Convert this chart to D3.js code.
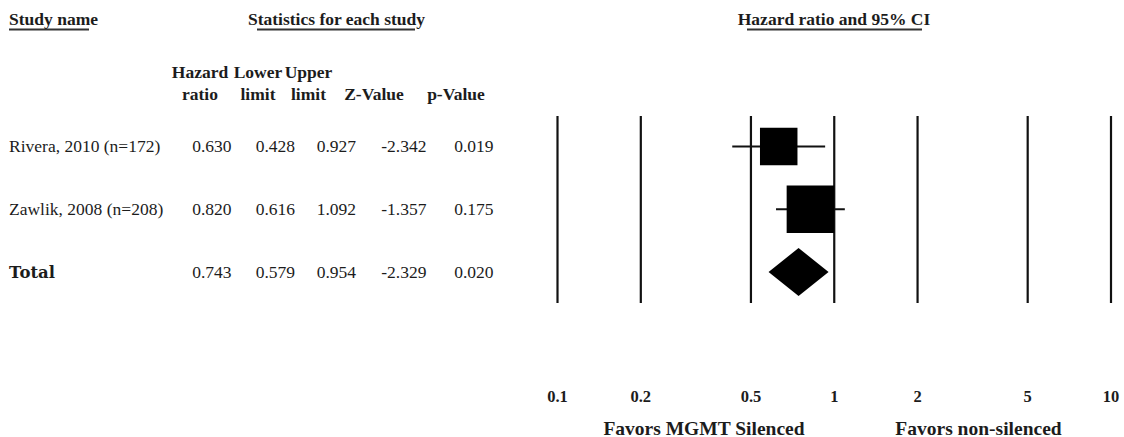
<!DOCTYPE html>
<html>
<head>
<meta charset="utf-8">
<script src="https://cdn.jsdelivr.net/npm/d3@7"></script>
<style>
  html, body { margin: 0; padding: 0; background: #fff; }
  svg { display: block; }
  text { font-family: "Liberation Serif", "Times New Roman", serif; fill: #1c1c1c; }
</style>
</head>
<body>
<svg id="chart" width="1124" height="437"></svg>
<script>
// Study-level statistics
const studyNames  = ["Rivera, 2010 (n=172)", "Zawlik, 2008 (n=208)"];
const hazardRatio = [0.630, 0.820];
const lowerLimit  = [0.428, 0.616];
const upperLimit  = [0.927, 1.092];
const zValue      = [-2.342, -1.357];
const pValue      = [0.019, 0.175];

// Pooled estimate
const totalLabel = "Total";
const totalHR    = 0.743;
const totalLower = 0.579;
const totalUpper = 0.954;
const totalZ     = -2.329;
const totalP     = 0.020;

// Axis
const axisTicks  = [0.1, 0.2, 0.5, 1, 2, 5, 10];
const tickLabels = ["0.1", "0.2", "0.5", "1", "2", "5", "10"];
const favorsLeft  = "Favors MGMT Silenced";
const favorsRight = "Favors non-silenced";

// Column headers
const headerLine1 = ["Hazard", "Lower", "Upper", "", ""];
const headerLine2 = ["ratio", "limit", "limit", "Z-Value", "p-Value"];

const svg = d3.select("#chart");

const x = d3.scaleLog().domain([0.1, 10]).range([557.5, 1111]);
const rowY = d3.scalePoint().domain([0, 1, 2]).range([146.5, 272]);

// Inverse-variance weights from the confidence limits set the box sizes
const weights = lowerLimit.map((lo, i) => {
  const se = (Math.log(upperLimit[i]) - Math.log(lo)) / (2 * 1.959964);
  return 1 / (se * se);
});
const boxSize = d3.scaleLinear().domain(d3.extent(weights)).range([37.5, 47.5]);

// Three-decimal format with a plain hyphen for negatives
const fmt = v => d3.format(".3f")(v).replace("\u2212", "-");

// ---- Top headings with underlines ----
const headings = [
  { t: "Study name", x: 9, anchor: "start", ul: [9, 89] },
  { t: "Statistics for each study", x: 336.5, anchor: "middle", ul: [257, 415] },
  { t: "Hazard ratio and 95% CI", x: 834, anchor: "middle", ul: [747, 922] }
];
svg.selectAll("text.heading").data(headings).join("text")
  .attr("class", "heading")
  .attr("x", d => d.x).attr("y", 25)
  .attr("text-anchor", d => d.anchor)
  .style("font-weight", "bold").style("font-size", "17.5px")
  .text(d => d.t);
svg.selectAll("line.ul").data(headings).join("line")
  .attr("class", "ul")
  .attr("x1", d => d.ul[0]).attr("x2", d => d.ul[1])
  .attr("y1", 29.5).attr("y2", 29.5)
  .attr("stroke", "#333").attr("stroke-width", 1.8);

// ---- Column headers ----
const colCenters = [200, 258, 308.5, 374, 456];
const colRight   = [231.5, 295, 356, 426.5, 493.5];
svg.selectAll("text.h1").data(headerLine1).join("text")
  .attr("class", "h1")
  .attr("x", (d, i) => colCenters[i]).attr("y", 77.5)
  .attr("text-anchor", "middle")
  .style("font-weight", "bold").style("font-size", "17.5px")
  .text(d => d);
svg.selectAll("text.h2").data(headerLine2).join("text")
  .attr("class", "h2")
  .attr("x", (d, i) => colCenters[i]).attr("y", 100)
  .attr("text-anchor", "middle")
  .style("font-weight", "bold").style("font-size", "17.5px")
  .text(d => d);

// ---- Table rows ----
const rows = studyNames.map((n, i) => ({
  name: n, vals: [hazardRatio[i], lowerLimit[i], upperLimit[i], zValue[i], pValue[i]], total: false
}));
rows.push({ name: totalLabel, vals: [totalHR, totalLower, totalUpper, totalZ, totalP], total: true });

const rowG = svg.selectAll("g.row").data(rows).join("g")
  .attr("class", "row")
  .attr("transform", (d, i) => `translate(0,${rowY(i) + 5.8})`);

rowG.append("text")
  .attr("x", 9).attr("y", 0)
  .style("font-size", d => d.total ? "16.5px" : "17.5px")
  .style("font-weight", d => d.total ? "bold" : "normal")
  .style("font-family", d => d.total ? "'DejaVu Serif', serif" : null)
  .text(d => d.name);

rowG.selectAll("text.val").data(d => d.vals).join("text")
  .attr("class", "val")
  .attr("x", (d, i) => colRight[i]).attr("y", 0)
  .attr("text-anchor", "end")
  .style("font-size", "17.5px")
  .text(d => fmt(d));

// ---- Reference lines at each tick ----
svg.selectAll("line.ref").data(axisTicks).join("line")
  .attr("class", "ref")
  .attr("x1", d => x(d)).attr("x2", d => x(d))
  .attr("y1", 116).attr("y2", 303)
  .attr("stroke", "#111").attr("stroke-width", 2.2);

// ---- Study confidence intervals and boxes ----
const studies = studyNames.map((n, i) => ({ hr: hazardRatio[i], lo: lowerLimit[i], hi: upperLimit[i], w: weights[i], i }));
svg.selectAll("line.ci").data(studies).join("line")
  .attr("class", "ci")
  .attr("x1", d => x(d.lo)).attr("x2", d => x(d.hi))
  .attr("y1", d => rowY(d.i)).attr("y2", d => rowY(d.i))
  .attr("stroke", "#111").attr("stroke-width", 2.2);
svg.selectAll("rect.box").data(studies).join("rect")
  .attr("class", "box")
  .attr("x", d => x(d.hr) - boxSize(d.w) / 2)
  .attr("y", d => rowY(d.i) - boxSize(d.w) / 2)
  .attr("width", d => boxSize(d.w))
  .attr("height", d => boxSize(d.w))
  .attr("fill", "#000");

// ---- Pooled diamond ----
const yT = rowY(2), half = 24;
svg.append("path")
  .attr("d", `M${x(totalLower)},${yT} L${x(totalHR)},${yT - half} L${x(totalUpper)},${yT} L${x(totalHR)},${yT + half} Z`)
  .attr("fill", "#000");

// ---- Axis labels ----
svg.selectAll("text.tick").data(axisTicks).join("text")
  .attr("class", "tick")
  .attr("x", d => x(d)).attr("y", 402)
  .attr("text-anchor", "middle")
  .style("font-weight", "bold").style("font-size", "16.5px")
  .text((d, i) => tickLabels[i]);

svg.append("text")
  .attr("x", 704).attr("y", 434.5)
  .attr("text-anchor", "middle")
  .style("font-weight", "bold").style("font-size", "19.5px")
  .text(favorsLeft);
svg.append("text")
  .attr("x", 978.5).attr("y", 434.5)
  .attr("text-anchor", "middle")
  .style("font-weight", "bold").style("font-size", "19.5px")
  .text(favorsRight);
</script>
</body>
</html>
